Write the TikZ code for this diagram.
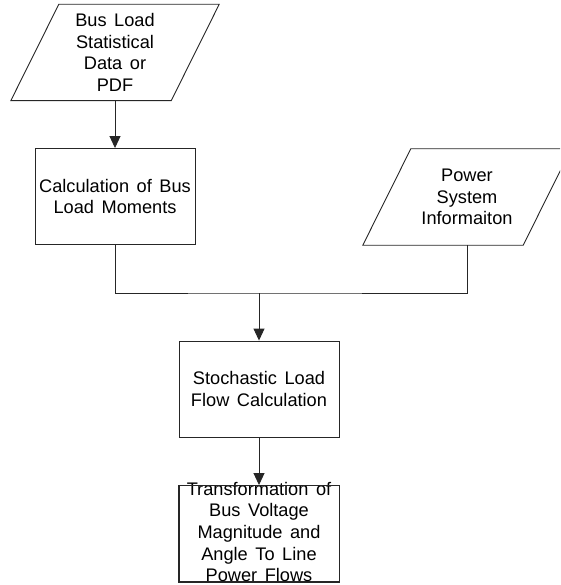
\documentclass[tikz,border=0pt]{standalone}
\usepackage{fontspec}
\setmainfont{Liberation Sans}[WordSpace=1.5]
\usetikzlibrary{arrows.meta,calc}
\begin{document}
\begin{tikzpicture}[x=1pt,y=1pt,
  every node/.style={font=\fontsize{18.2}{21.7}\selectfont, align=center, inner sep=0pt},
  frame/.style={draw=black!85, line width=0.9pt},
  procbox/.style={frame, minimum width=160pt, minimum height=96pt},
  iobox/.style={minimum width=160pt, minimum height=96pt},
  wire/.style={draw=black!85, line width=0.9pt},
  flow/.style={wire, -{Triangle[length=12pt,width=11pt]}}
]
\useasboundingbox (0,0) rectangle (560,-585);
\begin{scope}
\clip (0,0) rectangle (560,-585);

% input: load statistics
\node[iobox] (data) at (115,-52.5) {Bus Load\\Statistical\\Data or\\PDF};
\draw[frame] ($(data.south west)+(-24,0)$) -- ($(data.north west)+(24,0)$)
  -- ($(data.north east)+(24,0)$) -- ($(data.south east)+(-24,0)$) -- cycle;

% moments
\node[procbox] (mom) at (115,-196.5) {Calculation of Bus\\Load Moments};

% input: network data
\node[iobox] (sys) at (467,-197) {Power\\System\\Informaiton};
\draw[frame] ($(sys.south west)+(-24,0)$) -- ($(sys.north west)+(24,0)$)
  -- ($(sys.north east)+(24,0)$) -- ($(sys.south east)+(-24,0)$) -- cycle;

% stochastic load flow
\node[procbox] (slf) at (259,-389) {Stochastic Load\\Flow Calculation};

% transformation to line flows
\node[procbox] (tr) at (259,-533.5) {};
\node (trtext) at (259,-532) {Transformation of\\Bus Voltage\\Magnitude and\\Angle To Line\\Power Flows};

% connectors
\coordinate (join) at (259,-293);
\draw[flow] (data.south) -- (mom.north);
\draw[wire] (mom.south) |- (join) -| (sys.south);
\draw[flow] (join) -- (slf.north);
\draw[flow] (slf.south) -- (tr.north);
\draw[frame] (tr.south west) rectangle (tr.north east);
\end{scope}
\end{tikzpicture}
\end{document}
